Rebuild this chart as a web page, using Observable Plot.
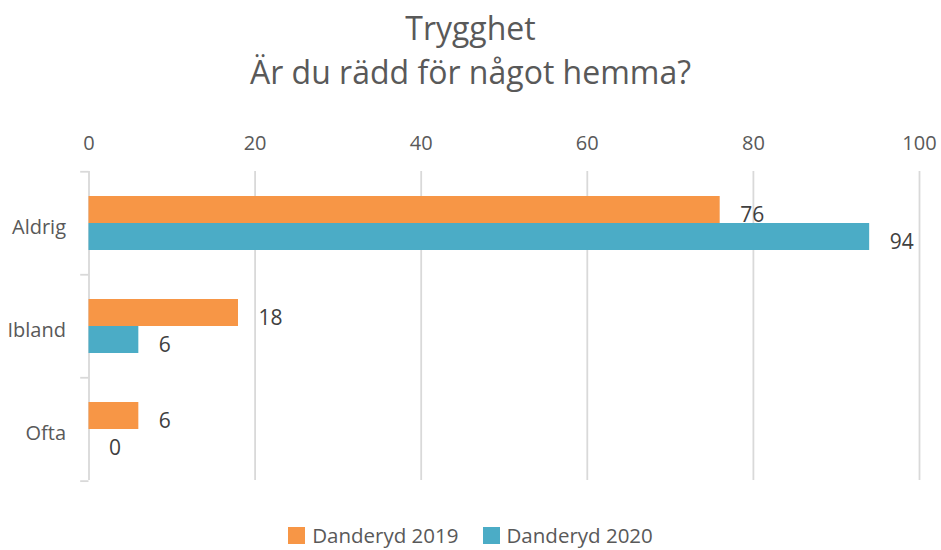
<!DOCTYPE html>
<html>
<head>
<meta charset="utf-8">
<script src="https://cdn.jsdelivr.net/npm/d3@7"></script>
<script src="https://cdn.jsdelivr.net/npm/@observablehq/plot@0.6"></script>
<style>
  html, body { margin: 0; padding: 0; background: #fff; }
  body { width: 941px; height: 550px; overflow: hidden; font-family: "Open Sans", sans-serif; }
  #title { text-align: center; color: #595959; font-size: 32px; line-height: 44px; padding-top: 6px; height: 88px; }
  #chart svg { display: block; }
  #legend { display: flex; justify-content: center; align-items: center; color: #595959; font-size: 20.5px; padding-top: 17px; }
  .item { display: flex; align-items: center; margin: 0 12px; }
  .sw { width: 17px; height: 17px; margin-right: 7px; }
</style>
</head>
<body>
<div id="title">Trygghet<br>Är du rädd för något hemma?</div>
<div id="chart"></div>
<div id="legend"></div>
<script>
const categories = ["Aldrig", "Ibland", "Ofta"];
const series = ["Danderyd 2019", "Danderyd 2020"];
const values2019 = [76, 18, 6];
const values2020 = [94, 6, 0];
const xTicks = [0, 20, 40, 60, 80, 100];
const colors = ["#F79646", "#4BACC6"];

const data = categories.flatMap((c, i) => [
  {cat: c, series: series[0], value: values2019[i]},
  {cat: c, series: series[1], value: values2020[i]}
]);

const grid = "#d9d9d9";

const chart = Plot.plot({
  width: 941,
  height: 410,
  marginTop: 76,
  marginBottom: 23,
  marginLeft: 88.5,
  marginRight: 22,
  style: {fontFamily: "Open Sans", fontSize: "20px", color: "#595959", background: "white"},
  x: {domain: [0, 100], axis: "top", ticks: xTicks, tickSize: 0, tickPadding: 22, label: null},
  y: {domain: series, axis: null, paddingInner: 0, paddingOuter: 0.9},
  fy: {domain: categories, padding: 0, axis: null},
  color: {domain: series, range: colors},
  marks: [
    Plot.ruleX(xTicks, {x: d => d, stroke: grid, strokeWidth: 1.8}),
    Plot.ruleY(categories, {fy: d => d, y: () => series[0], x1: -1, x2: 0, dy: -38.25, stroke: grid, strokeWidth: 1.8}),
    Plot.ruleY(categories.slice(-1), {fy: d => d, y: () => series[1], x1: -1, x2: 0, dy: 38.15, stroke: grid, strokeWidth: 1.8}),
    Plot.barX(data, {fy: "cat", y: "series", x: "value", fill: "series", insetTop: 0, insetBottom: 0}),
    Plot.text(data, {fy: "cat", y: "series", x: "value", text: d => String(d.value), textAnchor: "start", dx: 20, dy: 5, fill: "#404040", fontSize: 21}),
    Plot.text(categories, {fy: d => d, text: d => d, frameAnchor: "left", textAnchor: "end", dx: -23, dy: 5, fill: "#595959", fontSize: 20})
  ]
});
document.getElementById("chart").appendChild(chart);

const legend = document.getElementById("legend");
series.forEach((s, i) => {
  const item = document.createElement("div");
  item.className = "item";
  const sw = document.createElement("div");
  sw.className = "sw";
  sw.style.background = colors[i];
  const t = document.createElement("span");
  t.textContent = s;
  item.appendChild(sw);
  item.appendChild(t);
  legend.appendChild(item);
});
</script>
</body>
</html>
